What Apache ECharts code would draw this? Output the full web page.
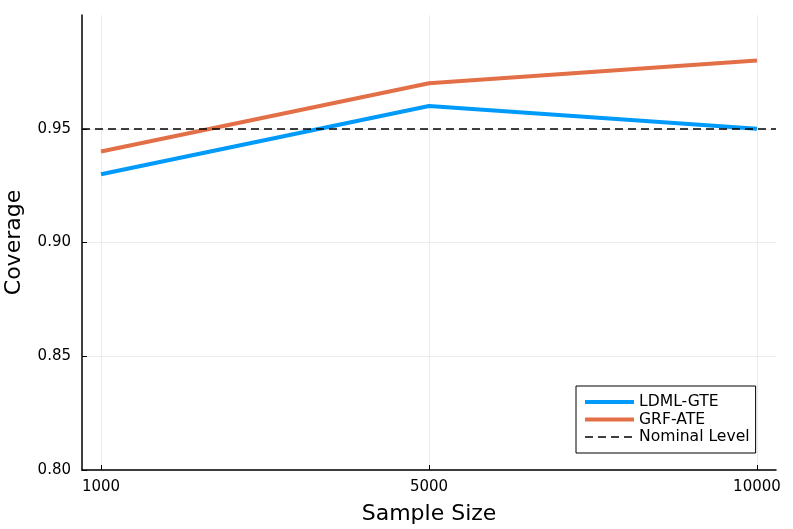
<!DOCTYPE html>
<html><head><meta charset="utf-8">
<script src="https://cdn.jsdelivr.net/npm/echarts@6/dist/echarts.min.js"></script>
<style>html,body{margin:0;padding:0;background:#fff}#c{width:793px;height:529px}</style>
</head><body><div id="c"></div>
<script>
const categories = ['1000', '5000', '10000'];
const ldml = [0.93, 0.96, 0.95];
const grf = [0.94, 0.97, 0.98];
const nominal = 0.95;
const yTicks = [0.80, 0.85, 0.90, 0.95];
const xIdx = categories.map((c, i) => i);

const font = 'DejaVu Sans';
const chart = echarts.init(document.getElementById('c'), null, {renderer: 'canvas'});
chart.setOption({
  animation: false,
  backgroundColor: '#fff',
  grid: {left: 82, right: 17, top: 15, bottom: 59, containLabel: false, outerBoundsMode: 'none'},
  xAxis: {
    type: 'value', min: -0.058, max: 2.058,
    name: 'Sample Size', nameLocation: 'middle', nameGap: 33,
    nameTextStyle: {fontFamily: font, fontSize: 22, color: '#000'},
    axisLine: {show: true, onZero: false, lineStyle: {color: '#000', width: 1.5}},
    axisTick: {show: true, inside: true, length: 5, customValues: xIdx, lineStyle: {color: '#000'}},
    axisLabel: {customValues: xIdx, fontFamily: font, fontSize: 15, color: '#000', margin: 10,
      formatter: v => categories[Math.round(v)]},
    splitLine: {show: true, lineStyle: {color: '#ebebeb', width: 1}}
  },
  yAxis: {
    type: 'value', min: 0.8, max: 1.0,
    name: 'Coverage', nameLocation: 'middle', nameGap: 57,
    nameTextStyle: {fontFamily: font, fontSize: 22, color: '#000'},
    axisLine: {show: true, onZero: false, lineStyle: {color: '#000', width: 1.5}},
    axisTick: {show: true, inside: true, length: 5, customValues: yTicks, lineStyle: {color: '#000'}},
    axisLabel: {customValues: yTicks, fontFamily: font, fontSize: 15, color: '#000', margin: 11,
      formatter: v => v.toFixed(2)},
    splitLine: {show: true, lineStyle: {color: '#ebebeb', width: 1}}
  },
  legend: {
    orient: 'vertical', left: 576, top: 386,
    padding: [8, 6, 8, 7], itemGap: 1.5, itemWidth: 49, itemHeight: 14,
    borderColor: '#000', borderWidth: 1, backgroundColor: '#fff',
    itemStyle: {opacity: 0},
    textStyle: {fontFamily: font, fontSize: 15.6, color: '#000'},
    data: [
      {name: 'LDML-GTE', lineStyle: {width: 4, color: '#009AFA'}},
      {name: 'GRF-ATE', lineStyle: {width: 4, color: '#E26F46'}},
      {name: 'Nominal Level', lineStyle: {width: 1.5, color: '#000', type: [8, 5]}}
    ]
  },
  series: [
    {name: 'LDML-GTE', type: 'line', data: xIdx.map(i => [i, ldml[i]]), symbol: 'none',
      lineStyle: {color: '#009AFA', width: 4}, itemStyle: {color: '#009AFA'}},
    {name: 'GRF-ATE', type: 'line', data: xIdx.map(i => [i, grf[i]]), symbol: 'none',
      lineStyle: {color: '#E26F46', width: 4}, itemStyle: {color: '#E26F46'}},
    {name: 'Nominal Level', type: 'line', data: [], symbol: 'none',
      lineStyle: {color: '#000', width: 1.5, type: [8, 5]}, itemStyle: {color: '#000'},
      markLine: {silent: true, symbol: 'none', label: {show: false},
        lineStyle: {color: '#000', width: 1.5, type: [8, 5]},
        data: [{yAxis: nominal}]}}
  ]
});
</script></body></html>
